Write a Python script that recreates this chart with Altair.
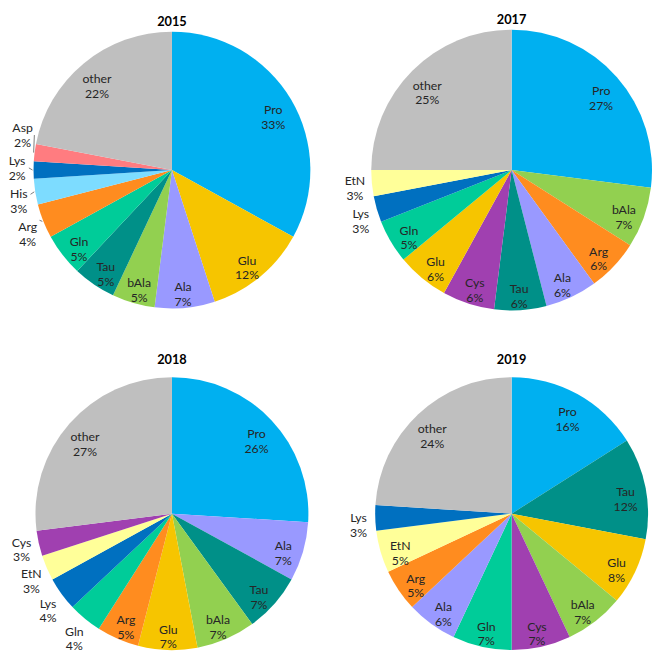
import math
import altair as alt
import pandas as pd

# ---------------- data ----------------
YEARS = ["2015", "2017", "2018", "2019"]

names_2015 = ["Pro", "Glu", "Ala", "bAla", "Tau", "Gln", "Arg", "His", "Lys", "Asp", "other"]
vals_2015 = [33, 12, 7, 5, 5, 5, 4, 3, 2, 2, 22]

names_2017 = ["Pro", "bAla", "Arg", "Ala", "Tau", "Cys", "Glu", "Gln", "Lys", "EtN", "other"]
vals_2017 = [27, 7, 6, 6, 6, 6, 6, 5, 3, 3, 25]

names_2018 = ["Pro", "Ala", "Tau", "bAla", "Glu", "Arg", "Gln", "Lys", "EtN", "Cys", "other"]
vals_2018 = [26, 7, 7, 7, 7, 5, 4, 4, 3, 3, 27]

names_2019 = ["Pro", "Tau", "Glu", "bAla", "Cys", "Gln", "Ala", "Arg", "EtN", "Lys", "other"]
vals_2019 = [16, 12, 8, 7, 7, 7, 6, 5, 5, 3, 24]

# ---------------- style ----------------
PALETTE = {
    "Pro": "#00B0F0",
    "Glu": "#F6C500",
    "Ala": "#9999FF",
    "bAla": "#92D050",
    "Tau": "#009088",
    "Gln": "#00CC99",
    "Arg": "#FF8C1F",
    "His": "#7DDCFF",
    "Lys": "#0070C0",
    "Asp": "#FF7C80",
    "Cys": "#A040B0",
    "EtN": "#FFFF99",
    "other": "#BFBFBF",
}
RADIUS = {"2015": 141, "2017": 143, "2018": 139, "2019": 139}
LEADERS = {"2015": True, "2017": False, "2018": False, "2019": False}
TITLE_OFFSET = {"2015": 3, "2017": 3, "2018": 9, "2019": 9}
CELL = 280
OUT_MAX = 4          # slices of this size or less are labelled outside
FONT = "Lato"
TEXT_COLOR = "#262626"

color_scale = alt.Scale(domain=list(PALETTE.keys()), range=list(PALETTE.values()))
theta_scale = alt.Scale(domain=[0, 100])


def pie(year, names, vals):
    R = RADIUS[year]
    r_in = 0.85 * R
    r_out = R + 17
    rows, cum = [], 0
    for n, v in zip(names, vals):
        rows.append(dict(name=n, value=v, start=cum, end=cum + v, mid=cum + v / 2,
                         label=f"{n}\n{v}%", outside=v <= OUT_MAX))
        cum += v
    df = pd.DataFrame(rows)

    # simple collision avoidance for outside labels (in data units along the circle)
    gap = 34 / (2 * math.pi * r_out) * 100
    pos = df["mid"].tolist()
    prev = None
    for i in df.index[df["outside"]]:
        if prev is not None and pos[i] < prev + gap:
            pos[i] = prev + gap
        prev = pos[i]
    df["pos"] = pos

    arcs = alt.Chart(df).mark_arc(outerRadius=R).encode(
        theta=alt.Theta("start:Q", stack=None, scale=theta_scale),
        theta2="end:Q",
        color=alt.Color("name:N", scale=color_scale, legend=None),
    )
    txt_kw = dict(font=FONT, fontSize=12.5, lineBreak="\n", lineHeight=15,
                  color=TEXT_COLOR, align="center", baseline="middle")
    inside = alt.Chart(df[~df["outside"]]).mark_text(radius=r_in, **txt_kw).encode(
        theta=alt.Theta("pos:Q", stack=None, scale=theta_scale),
        text="label:N",
    )
    outside = alt.Chart(df[df["outside"]]).mark_text(radius=r_out, **txt_kw).encode(
        theta=alt.Theta("pos:Q", stack=None, scale=theta_scale),
        text="label:N",
    )
    layers = [arcs, inside, outside]

    if LEADERS[year]:
        segs = []
        for _, r in df[df["outside"]].iterrows():
            a_l = 2 * math.pi * r["pos"] / 100
            a_m = 2 * math.pi * r["mid"] / 100
            lx, ly = r_out * math.sin(a_l), r_out * math.cos(a_l)
            ex, ey = (R + 1) * math.sin(a_m), (R + 1) * math.cos(a_m)
            sx = lx + (12 if lx < 0 else -12)
            sy = ly + (7 if ey > ly + 4 else (-7 if ey < ly - 4 else 0))
            segs.append(dict(x=sx, y=sy, x2=ex, y2=ey))
        seg_df = pd.DataFrame(segs)
        xs = alt.Scale(domain=[-CELL / 2, CELL / 2])
        leaders = alt.Chart(seg_df).mark_rule(color="#595959", strokeWidth=0.8).encode(
            x=alt.X("x:Q", scale=xs, axis=None),
            y=alt.Y("y:Q", scale=xs, axis=None),
            x2="x2:Q",
            y2="y2:Q",
        )
        layers.append(leaders)

    return alt.layer(*layers).properties(
        width=CELL,
        height=CELL,
        title=alt.TitleParams(year, font=FONT, fontSize=13, fontWeight="bold",
                              color="#000000", anchor="middle",
                              offset=TITLE_OFFSET[year]),
    )


c15 = pie("2015", names_2015, vals_2015)
c17 = pie("2017", names_2017, vals_2017)
c18 = pie("2018", names_2018, vals_2018)
c19 = pie("2019", names_2019, vals_2019)

chart = alt.concat(
    c15, c17, c18, c19,
    columns=2,
    spacing={"row": 70, "column": 66},
    bounds="flush",
).properties(
    padding={"left": 0, "top": 0, "right": 0, "bottom": 0},
).configure_view(strokeWidth=0)

chart.save("out.html", embed_options={"renderer": "svg", "actions": False})
